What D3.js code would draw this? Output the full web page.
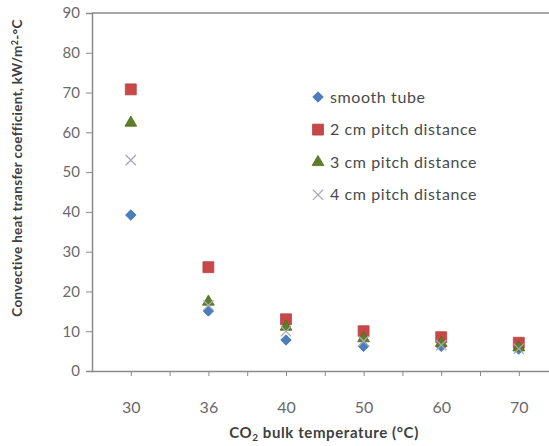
<!DOCTYPE html>
<html><head><meta charset="utf-8">
<script src="https://cdn.jsdelivr.net/npm/d3@7/dist/d3.min.js"></script>
<style>body{margin:0;background:#fff;} text{font-family:Lato,"Open Sans",sans-serif;}</style>
</head><body>
<svg id="c" width="549" height="446"></svg>
<script>
const categories = ["30","36","40","50","60","70"];
const seriesNames = ["smooth tube","2 cm pitch distance","3 cm pitch distance","4 cm pitch distance"];
const smooth = [39.2, 15.1, 7.8, 6.2, 6.2, 5.5];
const pitch2 = [70.8, 26.1, 13.0, 10.0, 8.5, 7.1];
const pitch3 = [62.4, 17.4, 11.1, 8.2, 7.0, 5.9];
const pitch4 = [53.0, 16.5, 10.0, 7.5, 6.5, 5.6];
const yTicks = [0,10,20,30,40,50,60,70,80,90];

const svg = d3.select("#c");
const L = 92, T = 13, B = 371, step = 77.6;
const x = d3.scaleLinear().domain([-0.5, 5.5]).range([L, L + 6*step]);
const y = d3.scaleLinear().domain([0, 90]).range([B, T]);
const axisColor = "#8a8a8a", labColor = "#6a6a6a";

// top border
svg.append("line").attr("x1", L).attr("x2", 549).attr("y1", T).attr("y2", T)
  .attr("stroke", axisColor).attr("stroke-width", 1.5);

// y axis
const ya = svg.append("g").attr("transform", `translate(${L},0)`)
  .call(d3.axisLeft(y).tickValues(yTicks).tickSize(6).tickPadding(6));
ya.select(".domain").attr("stroke", axisColor).attr("stroke-width", 1.5);
ya.selectAll(".tick line").attr("stroke", axisColor);
ya.selectAll(".tick text").attr("fill", labColor).style("font-size", "15px").style("font-family","Lato");

// x axis
const xtickVals = d3.range(0, 11).map(i => i*0.5);
const xa = svg.append("g").attr("transform", `translate(0,${B})`)
  .call(d3.axisBottom(x).tickValues(xtickVals).tickSize(5).tickPadding(26)
    .tickFormat(d => Number.isInteger(d) ? categories[d] : ""));
xa.select(".domain").attr("stroke", axisColor).attr("stroke-width", 1.5).attr("d", `M${L},0.5H549`);
xa.selectAll(".tick line").attr("stroke", axisColor);
xa.selectAll(".tick text").attr("fill", labColor).style("font-size", "16px").style("font-family","Lato");

// axis titles
svg.append("text").attr("x", 324).attr("y", 438).attr("text-anchor", "middle")
  .attr("fill", "#404040").style("font-size", "15px").style("font-weight", "bold").style("letter-spacing", "0.6px")
  .html('CO<tspan dy="3" font-size="10px">2</tspan><tspan dy="-3"> bulk temperature (°C)</tspan>');
svg.append("text").attr("transform", "translate(22,168) rotate(-90)").attr("text-anchor", "middle")
  .attr("fill", "#404040").style("font-size", "13.5px").style("font-weight", "bold").style("letter-spacing", "0.3px")
  .html('Convective heat transfer coefficient, kW/m<tspan dy="-4" font-size="9px">2</tspan><tspan dy="4">-°C</tspan>');

// markers
const sym = {
  diamond: d3.symbol().type(d3.symbolDiamond2).size(70),
  square: d3.symbol().type(d3.symbolSquare).size(120),
  triangle: d3.symbol().type(d3.symbolTriangle).size(60),
  cross: d3.symbol().type(d3.symbolTimes).size(70)
};
const series = [
  {name: seriesNames[0], values: smooth, shape: "diamond", fill: "#4a7ebb", stroke: "#3b6fb0"},
  {name: seriesNames[1], values: pitch2, shape: "square", fill: "#c8484a", stroke: "#b84446"},
  {name: seriesNames[2], values: pitch3, shape: "triangle", fill: "#5e7f24", stroke: "#4f6b1c"},
  {name: seriesNames[3], values: pitch4, shape: "cross", fill: "none", stroke: "#a8a8b8"}
];
function drawMark(g, s, cx, cy) {
  const p = g.append("path").attr("d", sym[s.shape]()).attr("transform", `translate(${cx},${cy})`);
  if (s.shape === "cross") p.attr("fill", "none").attr("stroke", s.stroke).attr("stroke-width", 1.3);
  else p.attr("fill", s.fill).attr("stroke", s.stroke).attr("stroke-width", 0.8);
}
const marks = svg.append("g");
series.forEach(s => s.values.forEach((v, i) => drawMark(marks, s, x(i), y(v))));

// legend
const lg = svg.append("g");
series.forEach((s, i) => {
  const cy = 97 + i*32.6;
  drawMark(lg, s, 318, cy);
  lg.append("text").attr("x", 330).attr("y", cy + 5.5).attr("fill", "#4a4a4a")
    .style("font-size", "16px").style("letter-spacing", "0.6px").text(s.name);
});
</script>
</body></html>
